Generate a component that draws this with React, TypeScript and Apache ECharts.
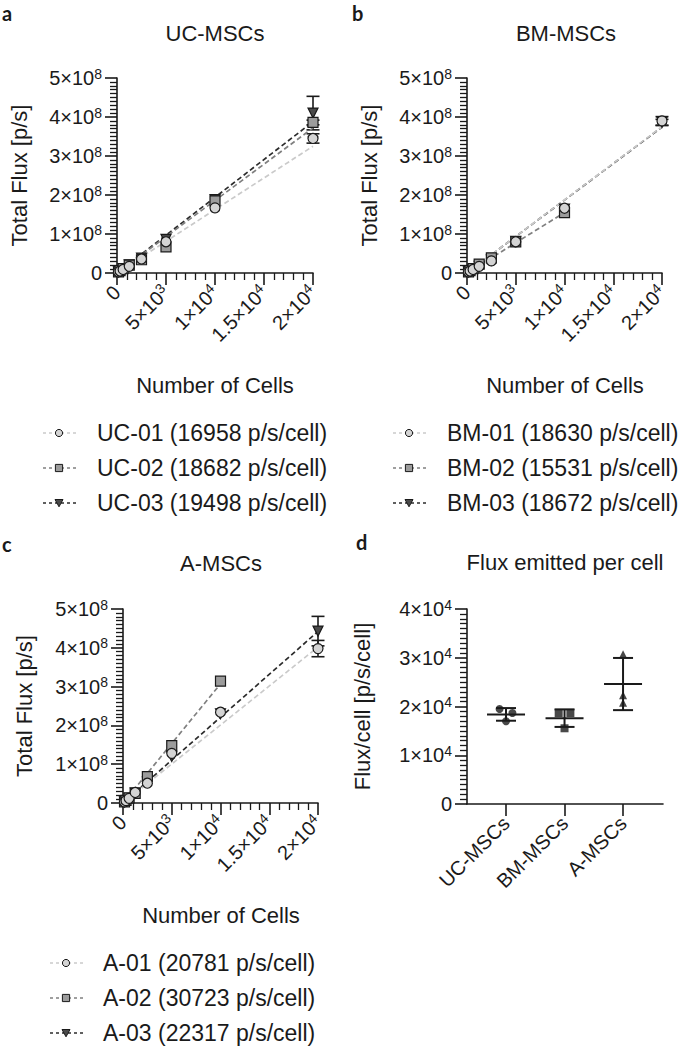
import React, { useEffect, useRef } from "react";
import * as echarts from "echarts";

const FONT = "Arial, Liberation Sans, Helvetica, sans-serif";
const LETTER_FONT = "Lato, Open Sans, sans-serif";
const INK = "#1a1a1a";

// ---------- data ----------
const CELLS = [156, 312, 625, 1250, 2500, 5000, 10000, 20000];

// Panel a: UC-MSCs (total flux, p/s)
const UC_NAMES = ["UC-01 (16958 p/s/cell)", "UC-02 (18682 p/s/cell)", "UC-03 (19498 p/s/cell)"];
const UC01 = [3e6, 5e6, 9e6, 17e6, 36e6, 80e6, 167e6, 345e6];
const UC02 = [3e6, 6e6, 11e6, 20e6, 34e6, 67e6, 185e6, 386e6];
const UC03 = [3e6, 6e6, 11e6, 21e6, 38e6, 86e6, 188e6, 410e6];
const UC01_SD = [0, 0, 0, 0, 0, 0, 0, 12e6];
const UC02_SD = [0, 0, 0, 0, 0, 0, 0, 6e6];
const UC03_SD = [0, 0, 0, 0, 0, 0, 0, 43e6];
const UC_FIT_END = [[20000, 325e6], [20000, 372e6], [20000, 388e6]];

// Panel b: BM-MSCs
const BM_NAMES = ["BM-01 (18630 p/s/cell)", "BM-02 (15531 p/s/cell)", "BM-03 (18672 p/s/cell)"];
const BM01 = [3e6, 5e6, 9e6, 17e6, 31e6, 80e6, 166e6, 390e6];
const BM02 = [3e6, 6e6, 11e6, 23e6, 39e6, 80e6, 155e6];
const BM03 = [3e6, 5e6, 9e6, 17e6, 33e6, 81e6, 164e6, 386e6];
const BM01_SD = [0, 0, 0, 0, 0, 0, 0, 11e6];
const BM02_SD = [0, 0, 0, 0, 0, 0, 0];
const BM03_SD = [0, 0, 0, 0, 0, 0, 0, 8e6];
const BM_FIT_END = [[20000, 375e6], [10000, 155e6], [20000, 374e6]];

// Panel c: A-MSCs
const A_NAMES = ["A-01 (20781 p/s/cell)", "A-02 (30723 p/s/cell)", "A-03 (22317 p/s/cell)"];
const A01 = [3e6, 6e6, 12e6, 27e6, 51e6, 128e6, 234e6, 398e6];
const A02 = [3e6, 7e6, 13e6, 25e6, 68e6, 148e6, 314e6];
const A03 = [3e6, 6e6, 12e6, 26e6, 54e6, 120e6, 230e6, 443e6];
const A01_SD = [0, 0, 0, 0, 0, 0, 0, 21e6];
const A02_SD = [0, 0, 0, 0, 0, 0, 0];
const A03_SD = [0, 0, 0, 0, 0, 0, 0, 38e6];
const A_FIT_END = [[20000, 402e6], [10000, 307e6], [20000, 442e6]];

// Panel d: flux per cell (p/s/cell)
const D_CATS = ["UC-MSCs", "BM-MSCs", "A-MSCs"];
const D_UC = [16958, 18682, 19498];
const D_BM = [18630, 15531, 18672];
const D_A = [20781, 30723, 22317];
const D_JITTER = [[0, 0.11, -0.11], [-0.1, 0, 0.1], [0, 0, 0]];

// tick labels
const X_TICKS = ["0", "5×10^3", "1×10^4", "1.5×10^4", "2×10^4"];
const Y_TICKS = ["0", "1×10^8", "2×10^8", "3×10^8", "4×10^8", "5×10^8"];
const D_Y_TICKS = ["0", "1×10^4", "2×10^4", "3×10^4", "4×10^4"];

// ---------- styles ----------
const SERIES_STYLE = [
  { symbol: "circle", fill: "#d4d4d4", line: "#cacaca", rotate: 0 },
  { symbol: "rect", fill: "#9c9c9c", line: "#808080", rotate: 0 },
  { symbol: "triangle", fill: "#4a4a4a", line: "#2c2c2c", rotate: 180 },
];
const D_SYMBOLS = ["circle", "rect", "triangle"];

const GRIDS = [
  { left: 117, top: 78, width: 196, height: 195 },
  { left: 467, top: 78, width: 195, height: 195 },
  { left: 123, top: 609, width: 195, height: 194 },
  { left: 467, top: 609, width: 196, height: 195 },
];

const RICH = {
  n: { fontSize: 20, fontFamily: FONT, color: INK, lineHeight: 23, verticalAlign: "middle" },
  s: { fontSize: 14, fontFamily: FONT, color: INK, lineHeight: 14, verticalAlign: "top" },
};
const sup = (s: string) => {
  const [m, e] = s.split("^");
  return e ? `{n|${m}}{s|${e}}` : `{n|${m}}`;
};

const axisLine = { show: true, onZero: false, lineStyle: { color: INK, width: 1.6 } };
const axisTick = { show: true, length: 12, lineStyle: { color: INK, width: 1.6 } };
const minor = (n: number) => ({ show: true, splitNumber: n, length: 7, lineStyle: { color: INK, width: 1.3 } });

export default function App() {
  const ref = useRef<HTMLDivElement>(null);
  useEffect(() => {
    if (!ref.current) return;
    const chart = echarts.init(ref.current, null, { renderer: "svg" });

    const panels = [
      { vals: [UC01, UC02, UC03], sds: [UC01_SD, UC02_SD, UC03_SD], fits: UC_FIT_END, names: UC_NAMES },
      { vals: [BM01, BM02, BM03], sds: [BM01_SD, BM02_SD, BM03_SD], fits: BM_FIT_END, names: BM_NAMES },
      { vals: [A01, A02, A03], sds: [A01_SD, A02_SD, A03_SD], fits: A_FIT_END, names: A_NAMES },
    ];

    const xAxes: any[] = [];
    const yAxes: any[] = [];
    for (let p = 0; p < 3; p++) {
      xAxes.push({
        type: "value", gridIndex: p, min: 0, max: 20000, interval: 5000,
        axisLine, axisTick, minorTick: minor(5),
        splitLine: { show: false }, minorSplitLine: { show: false },
        axisLabel: { rotate: 45, margin: 16, formatter: (v: number) => sup(X_TICKS[Math.round(v / 5000)]), rich: RICH },
      });
      yAxes.push({
        type: "value", gridIndex: p, min: 0, max: 5e8, interval: 1e8,
        axisLine, axisTick, minorTick: minor(10),
        splitLine: { show: false }, minorSplitLine: { show: false },
        axisLabel: { margin: 15, formatter: (v: number) => sup(Y_TICKS[Math.round(v / 1e8)]), rich: RICH },
      });
    }
    xAxes.push({
      type: "value", gridIndex: 3, min: -0.667, max: 2.683,
      axisLine,
      axisTick: { ...axisTick, customValues: [0, 1, 2] },
      splitLine: { show: false },
      axisLabel: {
        customValues: [0, 1, 2], rotate: 45, margin: 16,
        formatter: (v: number) => D_CATS[Math.round(v)],
        fontSize: 20, fontFamily: FONT, color: INK,
      },
    });
    yAxes.push({
      type: "value", gridIndex: 3, min: 0, max: 40000, interval: 10000,
      axisLine, axisTick, minorTick: minor(10),
      splitLine: { show: false }, minorSplitLine: { show: false },
      axisLabel: { margin: 15, formatter: (v: number) => sup(D_Y_TICKS[Math.round(v / 10000)]), rich: RICH },
    });

    const series: any[] = [];
    const errRender = (w: number) => (params: any, api: any) => {
      const x = api.value(0), y = api.value(1), e = api.value(2);
      const t = api.coord([x, y + e]);
      const b = api.coord([x, y - e]);
      const st = { stroke: INK, lineWidth: 1.6 };
      return {
        type: "group",
        children: [
          { type: "line", shape: { x1: t[0], y1: t[1], x2: b[0], y2: b[1] }, style: st },
          { type: "line", shape: { x1: t[0] - w, y1: t[1], x2: t[0] + w, y2: t[1] }, style: st },
          { type: "line", shape: { x1: b[0] - w, y1: b[1], x2: b[0] + w, y2: b[1] }, style: st },
        ],
      };
    };

    panels.forEach((pn, p) => {
      for (let k = 2; k >= 0; k--) {
        const data = pn.vals[k]
          .map((v, i) => [CELLS[i], v, pn.sds[k][i]])
          .filter((d) => d[2] > 0);
        series.push({
          type: "custom", xAxisIndex: p, yAxisIndex: p, data, silent: true, z: 2,
          renderItem: errRender(6.5),
        });
      }
      for (let k = 2; k >= 0; k--) {
        series.push({
          type: "line", xAxisIndex: p, yAxisIndex: p, z: 3, silent: true,
          data: [[0, 0], pn.fits[k]], symbol: "none",
          lineStyle: { color: SERIES_STYLE[k].line, width: 1.7, type: [5, 3] },
        });
      }
      for (let k = 2; k >= 0; k--) {
        const s = SERIES_STYLE[k];
        series.push({
          type: "scatter", name: pn.names[k], xAxisIndex: p, yAxisIndex: p, z: 4,
          data: pn.vals[k].map((v, i) => [CELLS[i], v]),
          symbol: s.symbol, symbolSize: 10, symbolRotate: s.rotate,
          itemStyle: { color: s.fill, borderColor: INK, borderWidth: 1.2, opacity: 1 },
        });
      }
    });

    const dGroups = [D_UC, D_BM, D_A];
    const stats = dGroups.map((g, i) => {
      const m = g.reduce((a, b) => a + b, 0) / g.length;
      const sd = Math.sqrt(g.reduce((a, b) => a + (b - m) * (b - m), 0) / (g.length - 1));
      return [i, m, sd];
    });
    series.push({
      type: "custom", xAxisIndex: 3, yAxisIndex: 3, data: stats, silent: true, z: 3,
      renderItem: (params: any, api: any) => {
        const x = api.value(0), m = api.value(1), e = api.value(2);
        const c = api.coord([x, m]);
        const t = api.coord([x, m + e]);
        const b = api.coord([x, m - e]);
        const st = { stroke: INK, lineWidth: 2 };
        return {
          type: "group",
          children: [
            { type: "line", shape: { x1: c[0] - 19, y1: c[1], x2: c[0] + 19, y2: c[1] }, style: st },
            { type: "line", shape: { x1: t[0], y1: t[1], x2: b[0], y2: b[1] }, style: st },
            { type: "line", shape: { x1: t[0] - 10, y1: t[1], x2: t[0] + 10, y2: t[1] }, style: st },
            { type: "line", shape: { x1: b[0] - 10, y1: b[1], x2: b[0] + 10, y2: b[1] }, style: st },
          ],
        };
      },
    });
    dGroups.forEach((g, i) => {
      series.push({
        type: "scatter", name: D_CATS[i], xAxisIndex: 3, yAxisIndex: 3, z: 4,
        data: g.map((v, j) => [i + D_JITTER[i][j], v]),
        symbol: D_SYMBOLS[i], symbolSize: 8,
        itemStyle: { color: INK, borderWidth: 0 },
      });
    });

    const txt = (text: string, x: number, y: number, opts: any = {}) => ({
      type: "text", x, y, rotation: opts.rotation || 0,
      style: {
        text, fill: INK, fontFamily: opts.family || FONT, fontSize: opts.size || 22,
        fontWeight: opts.weight || "normal", align: opts.align || "center", verticalAlign: "middle",
      },
    });
    const graphic: any[] = [
      txt("a", 2, 13, { align: "left", weight: "bold", size: 20, family: LETTER_FONT }),
      txt("b", 352, 13, { align: "left", weight: "bold", size: 20, family: LETTER_FONT }),
      txt("c", 2, 544, { align: "left", weight: "bold", size: 20, family: LETTER_FONT }),
      txt("d", 356, 542, { align: "left", weight: "bold", size: 20, family: LETTER_FONT }),
      txt("UC-MSCs", 215, 33),
      txt("BM-MSCs", 566, 33),
      txt("A-MSCs", 221, 563),
      txt("Flux emitted per cell", 565, 562),
      txt("Total Flux [p/s]", 19, 175.5, { rotation: Math.PI / 2 }),
      txt("Total Flux [p/s]", 369, 175.5, { rotation: Math.PI / 2 }),
      txt("Total Flux [p/s]", 24, 706, { rotation: Math.PI / 2 }),
      txt("Flux/cell [p/s/cell]", 362, 706.5, { rotation: Math.PI / 2 }),
      txt("Number of Cells", 215, 385),
      txt("Number of Cells", 565, 385),
      txt("Number of Cells", 221, 915),
    ];
    const legendPos = [
      { lx: 43, mx: 59, tx: 97, ys: [433, 468, 503] },
      { lx: 393, mx: 409, tx: 447, ys: [433, 468, 503] },
      { lx: 50, mx: 66, tx: 103, ys: [963, 998, 1033] },
    ];
    panels.forEach((pn, p) => {
      const L = legendPos[p];
      for (let k = 0; k < 3; k++) {
        const s = SERIES_STYLE[k];
        const y = L.ys[k];
        graphic.push({
          type: "line", shape: { x1: L.lx, y1: y, x2: L.lx + 34, y2: y },
          style: { stroke: s.line, lineWidth: 1.5, lineDash: [3, 3] },
        });
        const ms = { fill: s.fill, stroke: INK, lineWidth: 1 };
        if (k === 0) graphic.push({ type: "circle", shape: { cx: L.mx, cy: y, r: 3.6 }, style: ms });
        if (k === 1) graphic.push({ type: "rect", shape: { x: L.mx - 3.6, y: y - 3.6, width: 7.2, height: 7.2 }, style: ms });
        if (k === 2)
          graphic.push({
            type: "polygon",
            shape: { points: [[L.mx - 4, y - 3.5], [L.mx + 4, y - 3.5], [L.mx, y + 3.8]] },
            style: ms,
          });
        graphic.push(txt(pn.names[k], L.tx, y, { align: "left", size: 23 }));
      }
    });

    chart.setOption({
      animation: false,
      backgroundColor: "#ffffff",
      textStyle: { fontFamily: FONT },
      grid: GRIDS.map((g) => ({ ...g, containLabel: false })),
      xAxis: xAxes,
      yAxis: yAxes,
      series,
      graphic,
    });
    return () => chart.dispose();
  }, []);
  return <div ref={ref} style={{ position: "absolute", left: 0, top: 0, width: 685, height: 1046 }} />;
}
